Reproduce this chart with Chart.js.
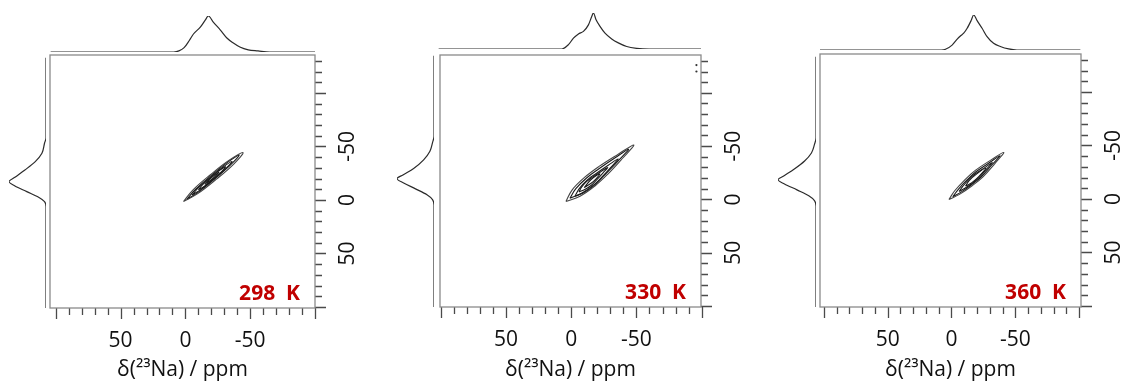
<!DOCTYPE html>
<html>
<head>
<meta charset="utf-8">
<script src="https://cdn.jsdelivr.net/npm/chart.js@4.4.1/dist/chart.umd.min.js"></script>
<style>
  body { margin: 0; background: #fff; width: 1123px; height: 383px; overflow: hidden; position: relative; }
  canvas { position: absolute; }
</style>
</head>
<body>
<script>
const temperatures = ["298  K", "330  K", "360  K"];
const xTickValues = [100, 90, 80, 70, 60, 50, 40, 30, 20, 10, 0, -10, -20, -30, -40, -50, -60, -70, -80, -90, -100];
const yTickValues = [-130, -120, -110, -100, -90, -80, -70, -60, -50, -40, -30, -20, -10, 0, 10, 20, 30, 40, 50, 60, 70, 80, 90, 100];
const majorTicks = [-100, -50, 0, 50, 100];
const labelledTicks = [-50, 0, 50];

// top projections (f2), ppm and normalised intensity
const topPpm298 = [104, 9, 5, 1, -3, -6.2, -11.5, -15.4, -17.7, -21.5, -27, -32, -37, -42, -48.5, -56, -65, -100];
const topInt298 = [0, 0, 0.03, 0.12, 0.32, 0.50, 0.69, 0.89, 1.0, 0.83, 0.61, 0.39, 0.25, 0.14, 0.06, 0.03, 0, 0];
const topPpm330 = [100, 6.3, 1.3, -2.5, -6.3, -10.1, -13.9, -16.4, -17.7, -19.7, -22.7, -26.5, -31.6, -36.6, -43, -50.5, -60, -100];
const topInt330 = [0, 0, 0.12, 0.30, 0.42, 0.49, 0.67, 0.90, 1.0, 0.81, 0.63, 0.44, 0.28, 0.17, 0.07, 0.02, 0, 0];
const topPpm360 = [103, 8, 4.7, -0.5, -4.5, -7, -9.6, -12.3, -15.4, -17.4, -20.1, -24, -27.9, -33, -38.3, -44.8, -51.3, -101];
const topInt360 = [0, 0, 0.02, 0.14, 0.31, 0.40, 0.48, 0.62, 0.84, 1.0, 0.84, 0.62, 0.38, 0.19, 0.10, 0.03, 0, 0];

// side projections (f1)
const sidePpm298 = [-133, -58, -53, -43.6, -35.8, -28, -21.2, -17.1, -13.1, -7.8, -2.5, 1.6, 6.3, 101];
const sideInt298 = [0, 0, 0.04, 0.11, 0.29, 0.57, 0.84, 1.0, 0.84, 0.52, 0.20, 0.04, 0, 0];
const sidePpm330 = [-133, -58, -52, -44, -36, -28, -22, -18.5, -14.5, -9, -3.5, 1, 6, 101];
const sideInt330 = [0, 0, 0.04, 0.11, 0.28, 0.55, 0.84, 1.0, 0.82, 0.50, 0.19, 0.04, 0, 0];
const sidePpm360 = [-133, -57, -51, -43, -35.5, -28, -21.5, -18, -14, -8.5, -3, 1.5, 6.5, 101];
const sideInt360 = [0, 0, 0.04, 0.12, 0.30, 0.57, 0.85, 1.0, 0.83, 0.50, 0.19, 0.04, 0, 0];

// contour lines as [f2, f1] ppm pairs
const contours298 = [
  [[1.5, 1.5], [-9.5, -5.9], [-23.7, -19.2], [-37.1, -33.3], [-44.5, -44.3], [-33.5, -36.9], [-19.3, -23.6], [-5.9, -9.5], [1.5, 1.5]],
  [[-1, -0.5], [-10.3, -7.6], [-22.8, -19.8], [-34.6, -32.5], [-41.5, -42], [-32.2, -34.9], [-19.8, -22.8], [-7.9, -10], [-1, -0.5]],
  [[-5, -4.5], [-12.1, -9.9], [-21.6, -19.2], [-30.7, -28.8], [-36, -36], [-28.9, -30.6], [-19.4, -21.4], [-10.3, -11.7], [-5, -4.5]],
  [[-10, -9.5], [-14.9, -13.1], [-21.3, -19.5], [-27.5, -26], [-31, -31], [-26.1, -27.4], [-19.7, -21.1], [-13.5, -14.5], [-10, -9.5]],
  [[-15, -14.5], [-20.9, -19.8], [-26, -26], [-20.1, -20.8], [-15, -14.5]]
];
const contours330 = [
  [[4, 2], [-6.8, -3], [-18.2, -12.6], [-28.1, -23.7], [-39.4, -38.6], [-48, -51], [-35.8, -42.2], [-21.1, -30.7], [-10.2, -20.6], [-0.8, -9], [4, 2]],
  [[1, -1], [-8, -5.7], [-17.8, -14.1], [-26.3, -23.8], [-36.3, -36.5], [-44, -47], [-33.7, -39.1], [-21.3, -28.8], [-11.8, -20.1], [-3.6, -10.1], [1, -1]],
  [[-3, -3], [-9.8, -6.5], [-17.2, -12.7], [-23.2, -20.3], [-30.4, -30], [-36, -38], [-28.4, -32], [-19.2, -24.3], [-12, -17.9], [-6.2, -10.1], [-3, -3]],
  [[-6, -7], [-10.5, -9.3], [-15.5, -13.3], [-19.5, -18.3], [-24.3, -24.7], [-28, -30], [-22.9, -26.1], [-16.7, -21.1], [-11.9, -16.9], [-8.1, -11.7], [-6, -7]],
  [[-10, -11], [-16.9, -16.6], [-22, -24], [-15.1, -18.4], [-10, -11]]
];
const contours360 = [
  [[2, 0.5], [-6.3, -4.3], [-15.9, -12.1], [-24.7, -20.7], [-34, -33.1], [-41, -43.5], [-30.8, -36.3], [-18.7, -26.7], [-10.3, -17.7], [-2.7, -7.9], [2, 0.5]],
  [[-1, -2], [-7.8, -6.6], [-16, -13.5], [-23.6, -21], [-31.6, -31.8], [-38, -40.5], [-29.6, -33.8], [-19.2, -25.4], [-12, -17.5], [-5.4, -9], [-1, -2]],
  [[-6, -7], [-10.8, -10.2], [-16.7, -14.9], [-21.9, -20.3], [-27.5, -27.9], [-32, -34], [-26.1, -29.3], [-18.7, -23.5], [-13.5, -18.1], [-9, -12], [-6, -7]],
  [[-11, -12], [-16, -15.3], [-21.6, -21.2], [-27, -29], [-19.6, -23.2], [-14, -17.3], [-11, -12]]
];
const spots330 = [[-96, -126], [-96, -120]];

const Y_MIN = -135.5, Y_MAX = 101;
const Y_AXIS_W = 46;
const FONT = "Open Sans";

const panels = [
  { box: [50, 55, 315, 308], xr: [-100, 104.5], top: [16, 52], side: [9, 46], topPpm: topPpm298, topInt: topInt298, sidePpm: sidePpm298, sideInt: sideInt298, contours: contours298, spots: [] },
  { box: [438, 53, 701, 307], xr: [-99.5, 100.5], top: [13, 49], side: [397, 434], topPpm: topPpm330, topInt: topInt330, sidePpm: sidePpm330, sideInt: sideInt330, contours: contours330, spots: spots330 },
  { box: [820, 54, 1081, 307], xr: [-101.5, 103], top: [15, 50], side: [778, 816], topPpm: topPpm360, topInt: topInt360, sidePpm: sidePpm360, sideInt: sideInt360, contours: contours360, spots: [] }
];

function addCanvas(left, top, width, height) {
  const c = document.createElement("canvas");
  c.width = width;
  c.height = height;
  c.style.left = left + "px";
  c.style.top = top + "px";
  c.style.width = width + "px";
  c.style.height = height + "px";
  document.body.appendChild(c);
  return c.getContext("2d");
}

const toXY = (xs, ys) => xs.map((v, i) => ({ x: v, y: ys[i] }));

// keep the plot box exactly where it is in the figure
function noPadding(s) {
  s.paddingLeft = 0;
  s.paddingRight = 0;
  s.paddingTop = 0;
  s.paddingBottom = 0;
}

// frame, tick marks and temperature label
const panelFrame = {
  id: "panelFrame",
  afterDraw(chart, args, opts) {
    const { ctx, chartArea: a, scales: { x, y } } = chart;
    ctx.save();
    ctx.strokeStyle = "#4a4a4a";
    ctx.lineWidth = 1.3;
    ctx.beginPath();
    x.ticks.forEach(t => {
      const px = Math.round(x.getPixelForValue(t.value)) + 0.5;
      const len = majorTicks.includes(t.value) ? 11 : 7;
      ctx.moveTo(px, a.bottom);
      ctx.lineTo(px, a.bottom + len);
    });
    y.ticks.forEach(t => {
      const py = Math.round(y.getPixelForValue(t.value)) + 0.5;
      const len = majorTicks.includes(t.value) ? 11 : 7;
      ctx.moveTo(a.right, py);
      ctx.lineTo(a.right + len, py);
    });
    ctx.stroke();
    ctx.strokeStyle = "#8a8a8a";
    ctx.lineWidth = 1.3;
    ctx.strokeRect(a.left, a.top, a.right - a.left, a.bottom - a.top);
    ctx.fillStyle = "#c00000";
    ctx.font = "bold 21px '" + FONT + "'";
    ctx.textAlign = "right";
    ctx.textBaseline = "alphabetic";
    ctx.fillText(opts.label, a.right - 15, a.bottom - 8);
    ctx.restore();
  }
};

const noLegend = { legend: { display: false }, tooltip: { enabled: false } };

panels.forEach((p, i) => {
  const [left, top, right, bottom] = p.box;

  // main contour plot
  const datasets = p.contours.map((c, k) => ({
    data: c.map(([x, y]) => ({ x, y })),
    borderColor: k === 0 ? "#444" : "#1a1a1a",
    borderWidth: 1.1,
    pointRadius: 0,
    tension: 0.4
  }));
  datasets.push({
    data: p.spots.map(([x, y]) => ({ x, y })),
    showLine: false,
    pointRadius: 1.1,
    pointBackgroundColor: "#333",
    pointBorderWidth: 0
  });

  new Chart(addCanvas(left - 2, top - 2, right - left + 2 + Y_AXIS_W, 383 - top + 2), {
    type: "line",
    data: { datasets },
    options: {
      responsive: false,
      animation: false,
      layout: { padding: { left: 2, top: 2, right: 0, bottom: 0 } },
      plugins: { ...noLegend, panelFrame: { label: temperatures[i] } },
      scales: {
        x: {
          type: "linear",
          position: "bottom",
          min: p.xr[0],
          max: p.xr[1],
          reverse: true,
          afterFit: s => { s.height = 383 - bottom; noPadding(s); },
          afterBuildTicks: s => { s.ticks = xTickValues.map(v => ({ value: v })); },
          grid: { display: false, drawTicks: false },
          border: { display: false },
          ticks: {
            autoSkip: false,
            maxRotation: 0,
            padding: 20,
            color: "#111",
            font: { family: FONT, size: 21 },
            callback: v => labelledTicks.includes(v) ? String(v) : ""
          },
          title: {
            display: true,
            text: "δ(²³Na) / ppm",
            color: "#111",
            font: { family: FONT, size: 21 },
            padding: { top: 0, bottom: 0 }
          }
        },
        y: {
          type: "linear",
          position: "right",
          min: Y_MIN,
          max: Y_MAX,
          reverse: true,
          afterFit: s => { s.width = Y_AXIS_W; noPadding(s); },
          afterBuildTicks: s => { s.ticks = yTickValues.map(v => ({ value: v })); },
          grid: { display: false, drawTicks: false },
          border: { display: false },
          ticks: {
            autoSkip: false,
            minRotation: 90,
            maxRotation: 90,
            crossAlign: "center",
            padding: 18,
            color: "#111",
            font: { family: FONT, size: 21 },
            callback: v => labelledTicks.includes(v) ? String(v) : ""
          }
        }
      }
    },
    plugins: [panelFrame]
  });

  // top projection
  const [tPeak, tBase] = p.top;
  new Chart(addCanvas(left, tPeak - 3, right - left, tBase - tPeak + 6), {
    type: "line",
    data: {
      datasets: [{
        data: toXY(p.topPpm, p.topInt),
        borderColor: "#2b2b2b",
        borderWidth: 1.2,
        pointRadius: 0,
        cubicInterpolationMode: "monotone"
      }]
    },
    options: {
      responsive: false,
      animation: false,
      layout: { padding: { top: 3, bottom: 3 } },
      plugins: noLegend,
      scales: {
        x: { type: "linear", display: false, min: p.xr[0], max: p.xr[1], reverse: true },
        y: { type: "linear", display: false, min: 0, max: 1 }
      }
    }
  });

  // side projection
  const [sPeak, sBase] = p.side;
  new Chart(addCanvas(sPeak - 3, top, sBase - sPeak + 6, bottom - top), {
    type: "line",
    data: {
      datasets: [{
        data: toXY(p.sideInt, p.sidePpm),
        borderColor: "#2b2b2b",
        borderWidth: 1.2,
        pointRadius: 0,
        cubicInterpolationMode: "monotone"
      }]
    },
    options: {
      indexAxis: "y",
      responsive: false,
      animation: false,
      layout: { padding: { left: 3, right: 3 } },
      plugins: noLegend,
      scales: {
        x: { type: "linear", display: false, min: 0, max: 1, reverse: true },
        y: { type: "linear", display: false, min: Y_MIN, max: Y_MAX, reverse: true }
      }
    }
  });
});
</script>
</body>
</html>
